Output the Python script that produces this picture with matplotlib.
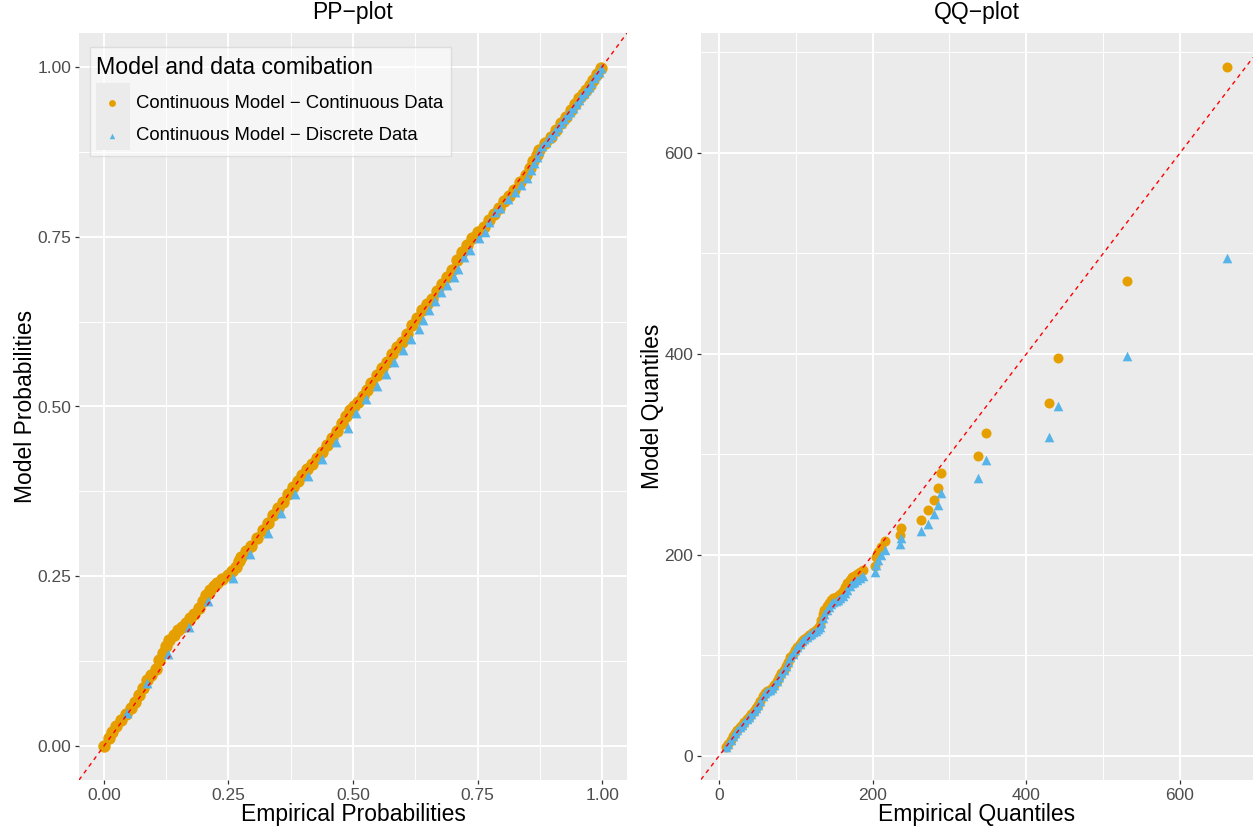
import matplotlib.pyplot as plt
from matplotlib.patches import Rectangle
from matplotlib.ticker import MultipleLocator, FormatStrFormatter

plt.rcParams['font.family'] = ['Liberation Sans', 'DejaVu Sans']

ORANGE = '#E69F00'
BLUE = '#56B4E9'

# PP-plot, continuous model vs continuous data
pp_cont_emp = [0.000, 0.010, 0.017, 0.025, 0.034, 0.044, 0.054, 0.062, 0.071, 0.079,
               0.087, 0.095, 0.104, 0.111, 0.118, 0.125, 0.131, 0.140, 0.148, 0.157,
               0.165, 0.173, 0.181, 0.190, 0.198, 0.205, 0.212, 0.220, 0.228, 0.238,
               0.249, 0.258, 0.266, 0.272, 0.276, 0.286, 0.296, 0.308, 0.319, 0.329,
               0.339, 0.349, 0.359, 0.370, 0.380, 0.389, 0.397, 0.407, 0.417, 0.427,
               0.437, 0.447, 0.457, 0.467, 0.477, 0.486, 0.494, 0.503, 0.511, 0.520,
               0.528, 0.537, 0.548, 0.558, 0.568, 0.578, 0.588, 0.598, 0.608, 0.618,
               0.628, 0.638, 0.649, 0.659, 0.669, 0.679, 0.689, 0.699, 0.709, 0.719,
               0.729, 0.739, 0.751, 0.763, 0.773, 0.783, 0.793, 0.803, 0.813, 0.823,
               0.835, 0.847, 0.855, 0.862, 0.869, 0.874, 0.885, 0.897, 0.907, 0.917,
               0.928, 0.938, 0.946, 0.954, 0.961, 0.968, 0.975, 0.981, 0.990, 0.998]
pp_cont_mod = [0.000, 0.012, 0.021, 0.029, 0.038, 0.047, 0.056, 0.065, 0.075, 0.086,
               0.097, 0.105, 0.114, 0.126, 0.137, 0.147, 0.156, 0.164, 0.171, 0.176,
               0.181, 0.188, 0.195, 0.204, 0.213, 0.222, 0.230, 0.235, 0.240, 0.246,
               0.252, 0.258, 0.264, 0.272, 0.279, 0.287, 0.294, 0.306, 0.318, 0.329,
               0.340, 0.350, 0.360, 0.371, 0.382, 0.391, 0.399, 0.408, 0.416, 0.424,
               0.433, 0.443, 0.453, 0.464, 0.475, 0.486, 0.495, 0.501, 0.507, 0.516,
               0.524, 0.535, 0.546, 0.556, 0.566, 0.578, 0.587, 0.595, 0.607, 0.620,
               0.631, 0.642, 0.651, 0.659, 0.670, 0.681, 0.691, 0.701, 0.715, 0.728,
               0.738, 0.748, 0.757, 0.765, 0.775, 0.784, 0.793, 0.802, 0.810, 0.819,
               0.830, 0.841, 0.851, 0.861, 0.871, 0.878, 0.888, 0.897, 0.907, 0.917,
               0.927, 0.937, 0.946, 0.954, 0.960, 0.966, 0.974, 0.981, 0.990, 0.998]

# PP-plot, continuous model vs discrete data
pp_disc_emp = [0.047, 0.087, 0.128, 0.171, 0.208, 0.259, 0.294, 0.329, 0.355, 0.383,
               0.409, 0.437, 0.466, 0.489, 0.507, 0.526, 0.548, 0.567, 0.583, 0.600,
               0.617, 0.632, 0.640, 0.653, 0.665, 0.677, 0.689, 0.702, 0.710, 0.722,
               0.734, 0.753, 0.764, 0.773, 0.785, 0.796, 0.811, 0.825, 0.837, 0.850,
               0.858, 0.864, 0.869, 0.874, 0.880, 0.887, 0.893, 0.899, 0.905, 0.911,
               0.917, 0.923, 0.929, 0.935, 0.941, 0.947, 0.953, 0.958, 0.963, 0.968,
               0.973, 0.978, 0.983, 0.988, 0.993, 0.998]
pp_disc_mod = [0.048, 0.093, 0.135, 0.175, 0.213, 0.248, 0.283, 0.313, 0.343, 0.371,
               0.398, 0.423, 0.447, 0.468, 0.491, 0.511, 0.530, 0.548, 0.566, 0.583,
               0.599, 0.614, 0.628, 0.642, 0.655, 0.668, 0.679, 0.690, 0.702, 0.720,
               0.730, 0.748, 0.757, 0.771, 0.786, 0.792, 0.805, 0.816, 0.826, 0.836,
               0.848, 0.858, 0.867, 0.876, 0.884, 0.890, 0.895, 0.900, 0.906, 0.912,
               0.917, 0.923, 0.929, 0.934, 0.940, 0.946, 0.952, 0.957, 0.962, 0.966,
               0.971, 0.977, 0.983, 0.988, 0.993, 0.998]

# QQ-plot: empirical quantiles shared by both fits
qq_emp = [9, 12, 15, 18, 21, 24, 27, 30, 33, 36, 39, 42, 45, 48, 51, 54, 57, 60, 63, 66,
          69, 72, 75, 78, 81, 84, 87, 90, 93, 96, 99, 102, 105, 108, 111, 114, 117, 120,
          123, 126, 129, 131, 133, 135, 137, 140, 143, 146, 149, 152, 155, 158, 161, 164,
          167, 170, 173, 176, 180, 184, 187.5, 203.5, 204, 207, 211, 215.5, 235, 236.5,
          263.4, 272, 280, 285, 288.5, 337, 348, 429, 441.6, 531, 661]
qq_cont = [9.3, 12, 16, 20, 23, 25.5, 28.5, 31, 34, 36.5, 39, 42, 44.5, 47.5, 51, 55,
           59.5, 62.5, 64.5, 66, 67.8, 70.5, 74.5, 79, 82.5, 86, 90, 94, 98, 101.5, 105,
           108, 111, 114, 116.5, 118.5, 120, 121.5, 123, 125, 127.5, 130.5, 135, 141, 145,
           149, 152.5, 155, 157, 158, 159.2, 161, 164, 168.5, 172, 175.5, 178.4, 179.5,
           181.5, 182.8, 185, 189.4, 198.3, 203.3, 208.3, 213.6, 220.2, 227.2, 235.1,
           244.5, 254.7, 266.7, 281.3, 298.8, 321.4, 351.5, 395.7, 472.6, 685.6]
qq_disc = [9.3, 12, 16, 20, 23, 25.5, 28.5, 31, 34, 36.5, 39, 42, 44.5, 47.5, 51, 55,
           59.5, 62.5, 64.5, 66, 67.8, 70.5, 74.5, 79, 82.5, 86, 90, 94, 98, 101.5, 105,
           108, 111, 114, 116.5, 118.5, 120, 121.5, 123, 124, 126, 128.5, 132, 137, 141.5,
           145.5, 148.5, 151, 153, 154, 155.5, 157, 159.5, 161.9, 165, 169, 171.8, 173.5,
           175.5, 177.5, 179.4, 183, 190, 195, 200, 205, 211, 216.9, 223.9, 231, 240.5,
           250.2, 262, 276.3, 294.2, 317.4, 348.5, 398, 495.8]

labels = ['Continuous Model \u2212 Continuous Data', 'Continuous Model \u2212 Discrete Data']


def gg_axes(ax):
    ax.set_facecolor('#EBEBEB')
    for s in ax.spines.values():
        s.set_visible(False)
    ax.set_axisbelow(True)
    ax.grid(which='major', color='white', lw=1.4)
    ax.grid(which='minor', color='white', lw=0.7)
    ax.tick_params(which='major', length=3.2, width=0.9, color='#333333',
                   labelsize=12.5, labelcolor='#4D4D4D', pad=2.5)
    ax.tick_params(which='minor', length=0)


W, H = 1255, 830
fig = plt.figure(figsize=(12.55, 8.3), dpi=100)
ax1 = fig.add_axes([79 / W, 50 / H, 548 / W, 747 / H])
ax2 = fig.add_axes([701 / W, 50 / H, 552 / W, 747 / H])

# ---- PP plot
gg_axes(ax1)
ax1.axline((0, 0), slope=1, color='red', lw=1.0, ls=(0, (3, 3)), zorder=3)
ax1.scatter(pp_cont_emp, pp_cont_mod, s=80, marker='o', color=ORANGE, lw=0, zorder=2,
            label=labels[0])
ax1.scatter(pp_disc_emp, pp_disc_mod, s=50, marker='^', color=BLUE, lw=0, zorder=2.5,
            label=labels[1])
ax1.set_xlim(-0.05, 1.05)
ax1.set_ylim(-0.05, 1.05)
for a in (ax1.xaxis, ax1.yaxis):
    a.set_major_locator(MultipleLocator(0.25))
    a.set_minor_locator(MultipleLocator(0.125))
    a.set_major_formatter(FormatStrFormatter('%.2f'))
ax1.set_xlabel('Empirical Probabilities', fontsize=16.5)
ax1.set_ylabel('Model Probabilities', fontsize=16.5)
ax1.xaxis.set_label_coords(0.5, -0.031)
ax1.yaxis.set_label_coords(-0.077, 0.5)
ax1.text(0.5, 1.028, 'PP\u2212plot', transform=ax1.transAxes, ha='center', va='center',
         fontsize=16.5)

# legend box and key background
ax1.add_patch(Rectangle((11 / 548, (780 - 156) / 747), 361 / 548, 109 / 747,
                        transform=ax1.transAxes, facecolor='white', alpha=0.6,
                        edgecolor='#D0D0D0', lw=1.0, zorder=4))
ax1.add_patch(Rectangle((17 / 548, (780 - 150) / 747), 34 / 548, 67 / 747,
                        transform=ax1.transAxes, facecolor='#EBEBEB', lw=0, zorder=4.5))
leg = ax1.legend(loc='upper left', bbox_to_anchor=(11 / 548, (780 - 50) / 747),
                 borderaxespad=0, frameon=False, title='Model and data comibation',
                 title_fontsize=16.7, fontsize=13.3, alignment='left', borderpad=0.35,
                 handlelength=1.7, handletextpad=0.42, labelspacing=0.84,
                 markerscale=0.55)
leg.set_zorder(5)

# ---- QQ plot
gg_axes(ax2)
ax2.axline((0, 0), slope=1, color='red', lw=1.0, ls=(0, (3, 3)), zorder=3)
ax2.scatter(qq_emp, qq_cont, s=52, marker='o', color=ORANGE, lw=0, zorder=2)
ax2.scatter(qq_emp, qq_disc, s=48, marker='^', color=BLUE, lw=0, zorder=2.5)
ax2.set_xlim(-23.4, 695)
ax2.set_ylim(-23.9, 719.4)
for a in (ax2.xaxis, ax2.yaxis):
    a.set_major_locator(MultipleLocator(200))
    a.set_minor_locator(MultipleLocator(100))
ax2.set_xlabel('Empirical Quantiles', fontsize=16.5)
ax2.set_ylabel('Model Quantiles', fontsize=16.5)
ax2.xaxis.set_label_coords(0.5, -0.031)
ax2.yaxis.set_label_coords(-0.067, 0.5)
ax2.text(0.5, 1.028, 'QQ\u2212plot', transform=ax2.transAxes, ha='center', va='center',
         fontsize=16.5)

fig.savefig('out.png', dpi=100)
